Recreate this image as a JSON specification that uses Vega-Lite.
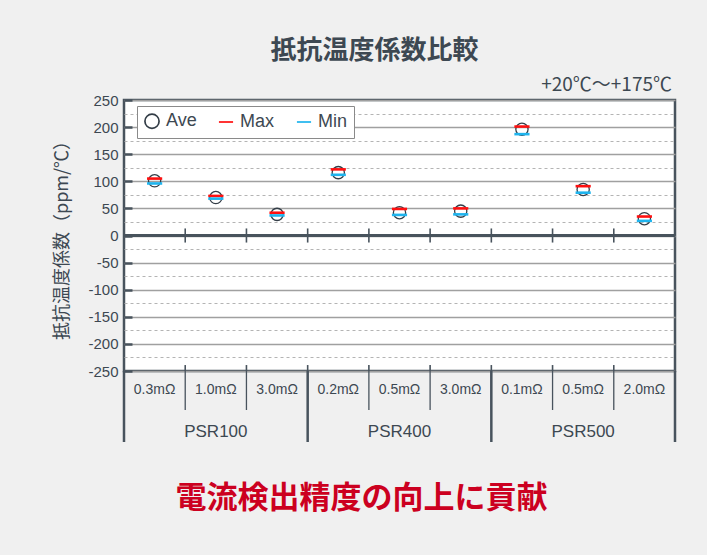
{
  "$schema": "https://vega.github.io/schema/vega-lite/v6.json",
  "width": 551,
  "height": 271,
  "padding": {"left": 53, "top": 38, "right": 30, "bottom": 50},
  "background": "#f0f0f0",
  "title": {"text": "抵抗温度係数比較", "font": "Noto Sans CJK JP", "fontSize": 26, "fontWeight": "bold", "color": "#3d4852", "anchor": "middle", "offset": 12, "dx": -25},
  "config": {
    "view": {"fill": "white", "stroke": "#48535d", "strokeWidth": 2.5},
    "font": "Liberation Sans"
  },
  "datasets": {
    "cats": [
      {"key": "PSR100|0.3mΩ", "group": "PSR100", "Ave": 101, "Max": 105, "Min": 96},
      {"key": "PSR100|1.0mΩ", "group": "PSR100", "Ave": 70, "Max": 73, "Min": 68},
      {"key": "PSR100|3.0mΩ", "group": "PSR100", "Ave": 39, "Max": 42, "Min": 37},
      {"key": "PSR400|0.2mΩ", "group": "PSR400", "Ave": 116, "Max": 122, "Min": 112},
      {"key": "PSR400|0.5mΩ", "group": "PSR400", "Ave": 42, "Max": 49, "Min": 38},
      {"key": "PSR400|3.0mΩ", "group": "PSR400", "Ave": 45, "Max": 50, "Min": 39},
      {"key": "PSR500|0.1mΩ", "group": "PSR500", "Ave": 196, "Max": 201, "Min": 187},
      {"key": "PSR500|0.5mΩ", "group": "PSR500", "Ave": 85, "Max": 91, "Min": 79},
      {"key": "PSR500|2.0mΩ", "group": "PSR500", "Ave": 31, "Max": 35, "Min": 27}
    ],
    "groups": [
      {"group": "PSR100", "first": "PSR100|0.3mΩ", "mid": "PSR100|1.0mΩ", "last": "PSR100|3.0mΩ"},
      {"group": "PSR400", "first": "PSR400|0.2mΩ", "mid": "PSR400|0.5mΩ", "last": "PSR400|3.0mΩ"},
      {"group": "PSR500", "first": "PSR500|0.1mΩ", "mid": "PSR500|0.5mΩ", "last": "PSR500|2.0mΩ"}
    ],
    "notes": [
      {"key": "PSR500|2.0mΩ", "note": "+20℃～+175℃"}
    ]
  },
  "data": {"name": "cats"},
  "layer": [
    {
      "transform": [{"fold": ["Ave"], "as": ["series", "value"]}],
      "mark": {"type": "point", "filled": false, "opacity": 1, "size": 150, "strokeWidth": 1.3},
      "encoding": {
        "x": {
          "field": "key", "type": "nominal",
          "scale": {"domain": ["PSR100|0.3mΩ", "PSR100|1.0mΩ", "PSR100|3.0mΩ", "PSR400|0.2mΩ", "PSR400|0.5mΩ", "PSR400|3.0mΩ", "PSR500|0.1mΩ", "PSR500|0.5mΩ", "PSR500|2.0mΩ"], "paddingInner": 0, "paddingOuter": 0},
          "axis": {
            "orient": "bottom",
            "labelExpr": "split(datum.label, '|')[1]",
            "labelAngle": 0,
            "labelFontSize": 14,
            "labelColor": "#3d4852",
            "labelPadding": 11,
            "ticks": false,
            "domain": false,
            "grid": false,
            "title": "電流検出精度の向上に貢献",
            "titleFont": "Noto Sans CJK JP",
            "titleFontSize": 31,
            "titleFontWeight": "bold",
            "titleColor": "#cc0020",
            "titlePadding": 87,
            "titleX": 237,
            "titleAlign": "center"
          }
        },
        "y": {
          "field": "value", "type": "quantitative",
          "scale": {"domain": [-250, 250], "nice": false, "zero": false},
          "axis": {
            "values": [-250, -225, -200, -175, -150, -125, -100, -75, -50, -25, 0, 25, 50, 75, 100, 125, 150, 175, 200, 225, 250],
            "tickCount": 30,
            "labelExpr": "datum.value % 50 == 0 ? '' + datum.value : ''",
            "labelOverlap": false,
            "labelFontSize": 15,
            "labelColor": "#3d4852",
            "labelPadding": 14,
            "tickSize": -8,
            "tickColor": "#48535d",
            "tickWidth": 2.5,
            "tickOpacity": {"condition": {"test": "datum.value % 50 != 0", "value": 0}, "value": 1},
            "domain": false,
            "grid": true,
            "gridColor": {"condition": {"test": "datum.value % 50 != 0", "value": "#b4b4b4"}, "value": "#a0a0a0"},
            "gridDash": {"condition": {"test": "datum.value % 50 != 0", "value": [3, 3]}, "value": []},
            "gridWidth": {"condition": {"test": "datum.value % 50 != 0", "value": 1}, "value": 1.4},
            "title": "抵抗温度係数（ppm/℃）",
            "titleFont": "Noto Sans CJK JP",
            "titleFontSize": 18,
            "titleFontWeight": "normal",
            "titleColor": "#3d4852",
            "titlePadding": 16
          }
        },
        "shape": {
          "field": "series", "type": "nominal",
          "scale": {"domain": ["Ave", "Max", "Min"], "range": ["circle", "stroke", "stroke"]},
          "legend": {
            "title": null,
            "orient": "none",
            "legendX": 13,
            "legendY": 6,
            "direction": "horizontal",
            "fillColor": "white",
            "strokeColor": "#8a8a8a",
            "padding": 6,
            "labelFontSize": 18,
            "labelColor": "#3d4852",
            "labelBaseline": "middle",
            "symbolSize": 200,
            "symbolStrokeWidth": 1.7,
            "columnPadding": 18,
            "labelOffset": 5
          }
        },
        "color": {
          "field": "series", "type": "nominal",
          "scale": {"domain": ["Ave", "Max", "Min"], "range": ["#333d47", "#ff1010", "#1eb4ee"]}
        }
      }
    },
    {
      "transform": [{"fold": ["Max", "Min"], "as": ["series", "value"]}],
      "mark": {"type": "point", "filled": false, "opacity": 1, "size": 230, "strokeWidth": 2.6},
      "encoding": {
        "x": {"field": "key", "type": "nominal"},
        "y": {"field": "value", "type": "quantitative"},
        "shape": {"field": "series", "type": "nominal"},
        "color": {"field": "series", "type": "nominal"}
      }
    },
    {
      "mark": {"type": "rule", "color": "#48535d", "strokeWidth": 2.5},
      "encoding": {"y": {"datum": 0}}
    },
    {
      "transform": [{"filter": "datum.key != 'PSR100|0.3mΩ'"}],
      "mark": {"type": "rule", "color": "#48535d", "strokeWidth": 1.6},
      "encoding": {
        "x": {"field": "key", "type": "nominal", "bandPosition": 0},
        "y": {"datum": -13},
        "y2": {"datum": 13}
      }
    },
    {
      "transform": [{"filter": "datum.key != 'PSR100|0.3mΩ'"}],
      "mark": {"type": "rule", "color": "#48535d", "strokeWidth": 1.6},
      "encoding": {
        "x": {"field": "key", "type": "nominal", "bandPosition": 0},
        "y": {"datum": -250},
        "y2": {"datum": -239}
      }
    },
    {
      "mark": {"type": "rule", "color": "#48535d", "strokeWidth": 1.3},
      "encoding": {
        "x": {"field": "key", "type": "nominal", "bandPosition": 0},
        "y": {"datum": -250},
        "y2": {"datum": -322}
      }
    },
    {
      "data": {"name": "groups"},
      "mark": {"type": "rule", "color": "#48535d", "strokeWidth": 2.5},
      "encoding": {
        "x": {"field": "first", "type": "nominal", "bandPosition": 0},
        "y": {"datum": -250},
        "y2": {"datum": -381}
      }
    },
    {
      "data": {"name": "groups"},
      "transform": [{"filter": "datum.group == 'PSR500'"}],
      "mark": {"type": "rule", "color": "#48535d", "strokeWidth": 2.5},
      "encoding": {
        "x": {"field": "last", "type": "nominal", "bandPosition": 1},
        "y": {"datum": -250},
        "y2": {"datum": -381}
      }
    },
    {
      "data": {"name": "groups"},
      "mark": {"type": "text", "fontSize": 17, "color": "#3d4852", "baseline": "middle", "align": "center"},
      "encoding": {
        "x": {"field": "mid", "type": "nominal"},
        "y": {"datum": -362},
        "text": {"field": "group"}
      }
    },
    {
      "data": {"name": "notes"},
      "mark": {"type": "text", "fontSize": 19, "color": "#3d4852", "baseline": "bottom", "align": "right", "dy": -5, "dx": -3, "font": "Noto Sans CJK JP"},
      "encoding": {
        "x": {"field": "key", "type": "nominal", "bandPosition": 1},
        "y": {"datum": 250},
        "text": {"field": "note"}
      }
    }
  ]
}
